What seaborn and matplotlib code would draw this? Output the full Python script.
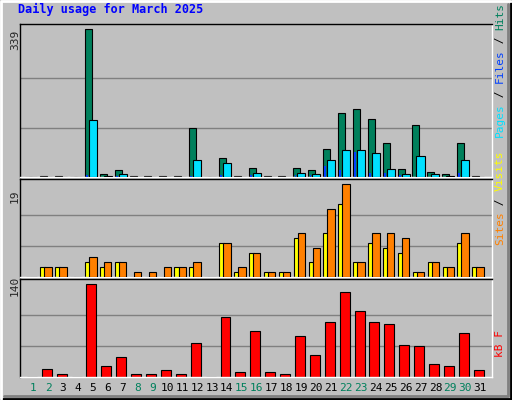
import matplotlib
matplotlib.use("Agg")
import matplotlib.pyplot as plt
import seaborn as sns
import pandas as pd
import numpy as np

days = list(range(1, 32))
hits  = [0,2,2,0,339,6,15,2,2,2,2,113,0,43,2,20,2,2,20,15,64,146,155,133,79,18,120,11,6,77,2]
pages = [0,0,0,0,130,3,6,0,0,0,0,40,0,33,0,10,0,0,10,6,40,61,61,54,18,8,48,6,3,40,0]
files = [0,0,0,0,5,0,3,0,0,0,0,3,0,4,0,4,0,0,5,4,25,17,57,10,10,5,0,0,0,10,0]
visits = [0,2,2,0,3,2,3,0,0,0,2,2,0,7,1,5,1,1,8,3,9,15,3,7,6,5,1,3,2,7,2]
sites  = [0,2,2,0,4,3,3,1,1,2,2,3,0,7,2,5,1,1,9,6,14,19,3,9,9,8,1,3,2,9,2]
kbytes = [0,12,4,0,140,16,30,5,5,10,4,51,0,91,7,70,7,4,62,33,83,128,100,83,80,48,47,19,16,66,11]
weekend = [1,2,8,9,15,16,22,23,29,30]

sns.set_style("white")
plt.rcParams['font.family'] = ['DejaVu Sans Mono', 'DejaVu Sans']
BG = "#C0C0C0"
W, H = 512, 400
fig = plt.figure(figsize=(W/100, H/100), dpi=100, facecolor=BG)

def ax_at(x0, y0, x1, y1):
    return fig.add_axes([x0/W, 1-y1/H, (x1-x0)/W, (y1-y0)/H])

xl = (0.107, 31.8)
df = pd.DataFrame(dict(day=days, hits=hits, pages=pages, files=files,
                       visits=visits, sites=sites, kb=kbytes))
d = np.array(days, dtype=float)

def style(ax, ymax, top, grid):
    ax.set_facecolor(BG)
    ax.set_xlim(*xl); ax.set_ylim(0, ymax)
    for g in grid:
        ax.axhline(g, color="#808080", lw=1, zorder=0)
    ax.set_xticks([]); ax.set_yticks([])
    for s in ax.spines.values():
        s.set_color("black"); s.set_linewidth(1)
    ax.spines['right'].set_color("white")
    ax.spines['bottom'].set_color("white")

ek = dict(edgecolor="black", linewidth=0.8, align="edge")
a1 = ax_at(20, 24, 492, 177)
style(a1, 351, 339, [113, 226])
a1.bar(d-0.54, df.hits, width=0.47, color="#00805C", **ek, zorder=2)
a1.bar(d-0.27, df.pages, width=0.54, color="#00E0FF", **ek, zorder=3)
a1.bar(d-0.45, df.files, width=0.12, color="#0040FF", edgecolor="#0040FF", linewidth=0, align="edge", zorder=4)

a2 = ax_at(20, 179, 492, 277)
style(a2, 20.1, 19, [19/3, 38/3])
a2.bar(d-0.52, df.visits, width=0.33, color="#FFFF00", **ek, zorder=2)
a2.bar(d-0.25, df.sites, width=0.5, color="#FF8000", **ek, zorder=3)

a3 = ax_at(20, 279, 492, 377)
style(a3, 148, 140, [140/3, 280/3])
a3.bar(d-0.43, df.kb, width=0.67, color="#FF0000", **ek, zorder=2)

fig.text(18/W, 1-16/H, "Daily usage for March 2025", color="#0000FF",
         fontsize=8.5, fontweight="bold", va="bottom")
for lab, yb in [("339", 50), ("19", 203), ("140", 296)]:
    fig.text(15/W, 1-yb/H, lab, rotation=90, fontsize=8, va="bottom", ha="center")
for dd in days:
    x = 20 + (dd - xl[0]) / (xl[1]-xl[0]) * 472
    fig.text(x/W, 1-388/H, str(dd), fontsize=8, ha="center", va="center",
             color="#00805C" if dd in weekend else "black")

fs = 8
cw = 0.602*fs*100/72
def vlabel(parts, ybottom):
    y = ybottom
    for txt, col in parts:
        fig.text(500/W, 1-y/H, txt, rotation=90, fontsize=fs, color=col,
                 ha="center", va="bottom")
        y -= cw*len(txt)
vlabel([("Pages", "#00E0FF"), (" / ", "black"), ("Files", "#0040FF"),
        (" / ", "black"), ("Hits", "#00805C")], 137)
vlabel([("Sites", "#FF8000"), (" / ", "black"), ("Visits", "#FFFF00")], 245)
vlabel([("kB F", "#FF0000")], 357)

# bevel border
bx = fig.add_axes([0, 0, 1, 1], facecolor="none"); bx.set_axis_off()
bx.set_xlim(0, W); bx.set_ylim(H, 0)
bx.plot([1, W-1, W-1], [H-1, H-1, 1], color="black", lw=2)
bx.plot([1, 1, W-1], [H-1, 1, 1], color="white", lw=2)
bx.plot([4, W-4, W-4], [H-4, H-4, 4], color="#808080", lw=2)
fig.savefig("out.png", dpi=100, facecolor=BG)
